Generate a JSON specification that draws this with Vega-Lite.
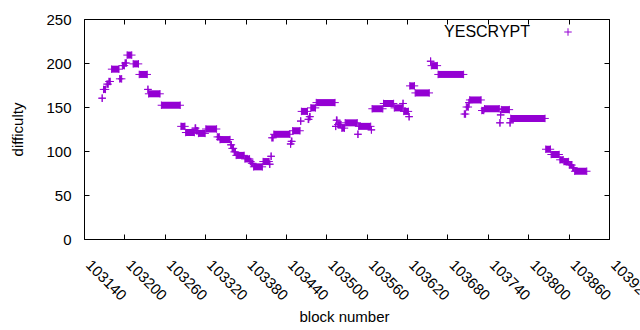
{
  "$schema": "https://vega.github.io/schema/vega-lite/v6.json",
  "width": 525,
  "height": 220,
  "autosize": {"type": "none"},
  "padding": {"left": 84, "top": 19, "right": 31, "bottom": 91},
  "background": "white",
  "config": {
    "view": {"stroke": "#000000", "strokeWidth": 1},
    "font": "Liberation Sans",
    "axis": {"domain": false, "grid": false, "tickColor": "#000000", "labelColor": "#000000", "titleColor": "#000000", "labelFont": "Liberation Sans", "titleFont": "Liberation Sans", "labelFontSize": 15, "titleFontSize": 15, "titleFontWeight": "normal"}
  },
  "data": {"values": [
    {"s": 103167, "e": 103167, "d": 160},
    {"s": 103169, "e": 103172, "d": 170},
    {"s": 103174, "e": 103176, "d": 176},
    {"s": 103177, "e": 103179, "d": 179},
    {"s": 103181, "e": 103192, "d": 193},
    {"s": 103193, "e": 103196, "d": 182},
    {"s": 103197, "e": 103200, "d": 197},
    {"s": 103201, "e": 103203, "d": 200},
    {"s": 103204, "e": 103211, "d": 209},
    {"s": 103213, "e": 103221, "d": 199},
    {"s": 103222, "e": 103234, "d": 187},
    {"s": 103235, "e": 103235, "d": 170},
    {"s": 103236, "e": 103253, "d": 165},
    {"s": 103255, "e": 103283, "d": 152},
    {"s": 103284, "e": 103290, "d": 128},
    {"s": 103291, "e": 103304, "d": 121},
    {"s": 103305, "e": 103306, "d": 126},
    {"s": 103307, "e": 103309, "d": 123},
    {"s": 103310, "e": 103320, "d": 120},
    {"s": 103321, "e": 103337, "d": 125},
    {"s": 103338, "e": 103341, "d": 116},
    {"s": 103342, "e": 103357, "d": 113},
    {"s": 103358, "e": 103359, "d": 107},
    {"s": 103360, "e": 103362, "d": 103},
    {"s": 103363, "e": 103365, "d": 99},
    {"s": 103366, "e": 103378, "d": 95},
    {"s": 103379, "e": 103386, "d": 91},
    {"s": 103387, "e": 103388, "d": 88},
    {"s": 103389, "e": 103391, "d": 86},
    {"s": 103392, "e": 103405, "d": 82},
    {"s": 103406, "e": 103415, "d": 88},
    {"s": 103416, "e": 103416, "d": 85},
    {"s": 103418, "e": 103418, "d": 94},
    {"s": 103419, "e": 103421, "d": 115},
    {"s": 103422, "e": 103446, "d": 119},
    {"s": 103447, "e": 103447, "d": 108},
    {"s": 103448, "e": 103449, "d": 111},
    {"s": 103450, "e": 103461, "d": 123},
    {"s": 103462, "e": 103462, "d": 134},
    {"s": 103463, "e": 103472, "d": 145},
    {"s": 103473, "e": 103474, "d": 136},
    {"s": 103475, "e": 103476, "d": 139},
    {"s": 103477, "e": 103484, "d": 149},
    {"s": 103485, "e": 103513, "d": 155},
    {"s": 103514, "e": 103514, "d": 128},
    {"s": 103515, "e": 103516, "d": 135},
    {"s": 103517, "e": 103522, "d": 130},
    {"s": 103523, "e": 103527, "d": 126},
    {"s": 103528, "e": 103546, "d": 132},
    {"s": 103547, "e": 103547, "d": 119},
    {"s": 103548, "e": 103566, "d": 128},
    {"s": 103567, "e": 103567, "d": 124},
    {"s": 103568, "e": 103584, "d": 148},
    {"s": 103585, "e": 103600, "d": 154},
    {"s": 103601, "e": 103613, "d": 149},
    {"s": 103614, "e": 103614, "d": 154},
    {"s": 103615, "e": 103622, "d": 145},
    {"s": 103623, "e": 103623, "d": 139},
    {"s": 103624, "e": 103631, "d": 174},
    {"s": 103632, "e": 103653, "d": 166},
    {"s": 103655, "e": 103655, "d": 202},
    {"s": 103656, "e": 103665, "d": 197},
    {"s": 103666, "e": 103704, "d": 187},
    {"s": 103705, "e": 103707, "d": 142},
    {"s": 103708, "e": 103711, "d": 150},
    {"s": 103712, "e": 103712, "d": 155},
    {"s": 103713, "e": 103730, "d": 158},
    {"s": 103731, "e": 103734, "d": 146},
    {"s": 103735, "e": 103757, "d": 148},
    {"s": 103758, "e": 103758, "d": 132},
    {"s": 103759, "e": 103759, "d": 141},
    {"s": 103760, "e": 103772, "d": 147},
    {"s": 103773, "e": 103773, "d": 132},
    {"s": 103774, "e": 103825, "d": 137},
    {"s": 103826, "e": 103833, "d": 102},
    {"s": 103834, "e": 103846, "d": 96},
    {"s": 103847, "e": 103852, "d": 90},
    {"s": 103853, "e": 103860, "d": 88},
    {"s": 103861, "e": 103865, "d": 84},
    {"s": 103866, "e": 103868, "d": 81},
    {"s": 103869, "e": 103887, "d": 77}
  ]},
  "resolve": {"axis": {"x": "independent", "y": "independent"}},
  "layer": [
    {
      "mark": {"type": "rule", "strokeWidth": 7, "color": "#9400d3", "strokeCap": "butt"},
      "encoding": {
        "x": {"field": "s", "type": "quantitative",
          "scale": {"domain": [103140, 103920], "nice": false, "zero": false},
          "axis": {"orient": "bottom", "values": [103140, 103200, 103260, 103320, 103380, 103440, 103500, 103560, 103620, 103680, 103740, 103800, 103860, 103920],
            "format": "d", "tickSize": -5, "labelAngle": 45, "labelAlign": "left", "labelBaseline": "middle", "labelPadding": 28, "labelOffset": 4,
            "title": "block number", "titleX": 260, "titleY": 77, "titleBaseline": "middle", "titleAlign": "center", "labelOverlap": false, "labelFlush": false, "labelBound": false}},
        "x2": {"field": "e"},
        "y": {"field": "d", "type": "quantitative",
          "scale": {"domain": [0, 250], "nice": false, "zero": true},
          "axis": {"orient": "left", "values": [0, 50, 100, 150, 200, 250], "tickSize": -5, "labelPadding": 18,
            "title": "difficulty", "titleX": -67, "titleY": 110, "titleAngle": -90, "titleBaseline": "middle", "titleAlign": "center", "labelFlush": false}}
      }
    },
    {
      "mark": {"type": "point", "shape": "M-1,0H1M0,-1V1", "filled": false, "size": 56, "strokeWidth": 1, "opacity": 1},
      "encoding": {
        "x": {"field": "s", "type": "quantitative",
          "axis": {"orient": "top", "values": [103140, 103200, 103260, 103320, 103380, 103440, 103500, 103560, 103620, 103680, 103740, 103800, 103860, 103920], "tickSize": -5, "labels": false, "title": null}},
        "y": {"field": "d", "type": "quantitative",
          "axis": {"orient": "right", "values": [0, 50, 100, 150, 200, 250], "tickSize": -5, "labels": false, "title": null}},
        "color": {"datum": "YESCRYPT", "scale": {"range": ["#9400d3"]},
          "legend": {"title": null, "orient": "none", "legendX": 476, "legendY": 5, "padding": 0,
            "symbolType": "M-1,0H1M0,-1V1", "symbolSize": 56, "symbolStrokeWidth": 1, "symbolFillColor": "transparent", "symbolStrokeColor": "#9400d3",
            "labelAlign": "right", "labelOffset": -46, "labelFontSize": 16, "labelFont": "Liberation Sans", "labelColor": "#000000", "labelLimit": 0}}
      }
    },
    {
      "mark": {"type": "point", "shape": "M-1,0H1M0,-1V1", "filled": false, "size": 56, "strokeWidth": 1, "opacity": 1, "color": "#9400d3"},
      "encoding": {
        "x": {"field": "e", "type": "quantitative", "axis": null},
        "y": {"field": "d", "type": "quantitative", "axis": null}
      }
    }
  ]
}
